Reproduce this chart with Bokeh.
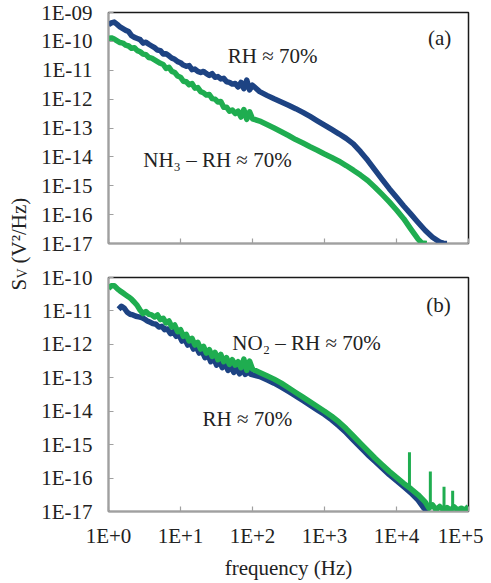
from math import pi

from bokeh.embed import file_html
from bokeh.resources import INLINE
from bokeh.plotting import figure
from bokeh.layouts import row, column
from bokeh.models import Range1d, FixedTicker, Label, CustomJSTickFormatter

# ---------------- data (log10 of frequency in Hz, log10 of S_V in V^2/Hz) ----------------
low_f_exp = [0.00, 0.04, 0.08, 0.12, 0.16, 0.20, 0.24, 0.28, 0.32, 0.36, 0.40, 0.44, 0.48,
             0.52, 0.56, 0.60, 0.64, 0.68, 0.72, 0.76, 0.80, 0.84, 0.88, 0.92, 0.96, 1.00,
             1.04, 1.08, 1.12, 1.16, 1.20, 1.24, 1.28, 1.32, 1.36, 1.40, 1.44, 1.48, 1.52,
             1.56, 1.60, 1.64, 1.68, 1.72, 1.76, 1.80, 1.84, 1.88, 1.92, 1.96, 2.00]

# panel (a): RH ~ 70 %
a_rh_f_exp = low_f_exp + [2.1, 2.2, 2.3, 2.4, 2.5, 2.6, 2.7, 2.8, 2.9, 3.0, 3.1, 3.2, 3.3, 3.4,
                          3.5, 3.6, 3.7, 3.8, 3.9, 4.0, 4.1, 4.2, 4.3, 4.4, 4.5, 4.6, 4.65, 4.70]
a_rh_s_exp = [-9.42, -9.36, -9.33, -9.41, -9.50, -9.56, -9.62, -9.66, -9.80, -9.86, -9.90, -9.94,
              -10.06, -10.03, -10.10, -10.16, -10.22, -10.30, -10.32, -10.44, -10.43, -10.50,
              -10.58, -10.62, -10.70, -10.74, -10.82, -10.86, -10.84, -10.98, -10.96, -11.04,
              -11.08, -11.04, -11.12, -11.18, -11.12, -11.24, -11.22, -11.30, -11.28, -11.40,
              -11.42, -11.48, -11.46, -11.58, -11.42, -11.64, -11.34, -11.68, -11.52,
              -11.74, -11.87, -11.99, -12.10, -12.21, -12.33, -12.46, -12.60, -12.75, -12.90,
              -13.05, -13.20, -13.36, -13.55, -13.82, -14.12, -14.45, -14.78, -15.10, -15.40,
              -15.70, -15.98, -16.27, -16.55, -16.78, -16.95, -16.99, -17.00]

# panel (a): NH3 - RH ~ 70 %
a_nh3_f_exp = low_f_exp + [2.1, 2.2, 2.3, 2.4, 2.5, 2.6, 2.7, 2.8, 2.9, 3.0, 3.1, 3.2, 3.3, 3.4,
                           3.5, 3.6, 3.7, 3.8, 3.9, 4.0, 4.1, 4.2, 4.3, 4.35, 4.42]
a_nh3_s_exp = [-9.90, -9.88, -9.92, -9.98, -10.04, -10.06, -10.13, -10.16, -10.24, -10.22,
               -10.32, -10.36, -10.44, -10.46, -10.56, -10.58, -10.64, -10.70, -10.76, -10.80,
               -10.94, -10.90, -11.04, -11.08, -11.20, -11.24, -11.38, -11.40, -11.50, -11.46,
               -11.62, -11.60, -11.74, -11.78, -11.86, -11.84, -11.98, -12.00, -12.10, -12.08,
               -12.28, -12.28, -12.42, -12.38, -12.50, -12.42, -12.62, -12.36, -12.70, -12.44,
               -12.68,
               -12.76, -12.88, -13.00, -13.13, -13.26, -13.40, -13.52, -13.65, -13.77, -13.90,
               -14.02, -14.15, -14.30, -14.46, -14.63, -14.82, -15.05, -15.30, -15.56, -15.84,
               -16.14, -16.50, -16.85, -16.98, -17.00]

# panel (b): RH ~ 70 %
b_rh_f_exp = [0.14, 0.18, 0.22, 0.26, 0.30, 0.34, 0.38, 0.42, 0.46, 0.50, 0.54, 0.58, 0.62,
              0.66, 0.70, 0.74, 0.78, 0.82, 0.86, 0.90, 0.94, 0.98, 1.02, 1.06, 1.10, 1.14,
              1.18, 1.22, 1.26, 1.30, 1.34, 1.38, 1.42, 1.46, 1.50, 1.54, 1.58, 1.62, 1.66,
              1.70, 1.74, 1.78, 1.82, 1.86, 1.90, 1.94, 1.98,
              2.1, 2.2, 2.3, 2.4, 2.5, 2.6, 2.7, 2.8, 2.9, 3.0, 3.1, 3.2, 3.3, 3.4, 3.5, 3.6,
              3.7, 3.8, 3.9, 4.0, 4.1, 4.2, 4.3, 4.38, 4.44]
b_rh_s_exp = [-10.95, -10.86, -10.92, -11.04, -11.10, -11.12, -11.16, -11.18, -11.20, -11.24,
              -11.30, -11.34, -11.38, -11.40, -11.48, -11.46, -11.56, -11.54, -11.68, -11.62,
              -11.76, -11.72, -11.90, -11.84, -12.02, -11.96, -12.14, -12.08, -12.26, -12.20,
              -12.40, -12.30, -12.52, -12.40, -12.62, -12.50, -12.70, -12.58, -12.78, -12.66,
              -12.84, -12.72, -12.88, -12.74, -12.90, -12.80, -12.90,
              -12.96, -13.06, -13.16, -13.28, -13.41, -13.54, -13.68, -13.82, -13.96, -14.10,
              -14.26, -14.44, -14.64, -14.86, -15.08, -15.30, -15.50, -15.70, -15.90, -16.08,
              -16.26, -16.44, -16.66, -16.90, -17.00]

# panel (b): NO2 - RH ~ 70 %
b_no2_f_exp = low_f_exp + [2.1, 2.2, 2.3, 2.4, 2.5, 2.6, 2.7, 2.8, 2.9, 3.0, 3.1, 3.2, 3.3, 3.4,
                           3.5, 3.6, 3.7, 3.8, 3.9, 4.0, 4.1, 4.2, 4.3, 4.4, 4.45, 4.50, 4.55,
                           4.60, 4.65, 4.70, 4.75, 4.80, 4.85, 4.90, 4.95, 5.00]
b_no2_s_exp = [-10.33, -10.25, -10.25, -10.33, -10.40, -10.46, -10.52, -10.58, -10.65, -10.74,
               -10.84, -10.98, -11.08, -11.02, -11.10, -11.12, -11.18, -11.12, -11.26, -11.22,
               -11.36, -11.30, -11.48, -11.42, -11.62, -11.56, -11.76, -11.70, -11.90, -11.82,
               -12.02, -11.94, -12.14, -12.06, -12.26, -12.16, -12.36, -12.24, -12.46, -12.30,
               -12.52, -12.40, -12.60, -12.46, -12.62, -12.52, -12.70, -12.44, -12.78, -12.50,
               -12.74,
               -12.84, -12.94, -13.04, -13.16, -13.30, -13.44, -13.58, -13.72, -13.86, -14.00,
               -14.15, -14.32, -14.52, -14.74, -14.96, -15.18, -15.40, -15.60, -15.80, -15.98,
               -16.16, -16.32, -16.50, -16.72, -16.90, -16.80, -16.95, -16.85, -16.95, -16.88,
               -16.96, -16.86, -16.96, -16.90, -16.96, -16.85]

# narrow spectral spikes of the NO2 curve
spike_f_exp = [4.18, 4.47, 4.66, 4.78]
spike_base_exp = [-16.29, -16.85, -16.92, -16.90]
spike_top_exp = [-15.23, -15.80, -16.26, -16.38]

x_ticks = [1e0, 1e1, 1e2, 1e3, 1e4, 1e5]
x_labels = ["1E+0", "1E+1", "1E+2", "1E+3", "1E+4", "1E+5"]
ya_ticks = [1e-17, 1e-16, 1e-15, 1e-14, 1e-13, 1e-12, 1e-11, 1e-10, 1e-9]
ya_labels = ["1E-17", "1E-16", "1E-15", "1E-14", "1E-13", "1E-12", "1E-11", "1E-10", "1E-09"]
yb_ticks = [1e-17, 1e-16, 1e-15, 1e-14, 1e-13, 1e-12, 1e-11, 1e-10]
yb_labels = ["1E-17", "1E-16", "1E-15", "1E-14", "1E-13", "1E-12", "1E-11", "1E-10"]


def pw(vals):
    return [10.0 ** v for v in vals]


BLUE = "#1d4383"
GREEN = "#1fad50"
TXT = "#222222"
AX = "#a0a0a0"
FONT = "Liberation Serif"
FS = "21px"

LABEL_JS = """
let best = 0, bd = Infinity;
for (let i = 0; i < tv.length; i++) {
  const d = Math.abs(Math.log10(tick) - Math.log10(tv[i]));
  if (d < bd) { bd = d; best = i; }
}
return lbl[best];
"""


def panel(y0, y1, frame_h, b_top, b_bottom, yt, yl, xl):
    p = figure(x_axis_type="log", y_axis_type="log",
               x_range=Range1d(1, 1e5), y_range=Range1d(y0, y1),
               frame_width=360, frame_height=frame_h,
               min_border_left=70, min_border_right=15,
               min_border_top=b_top, min_border_bottom=b_bottom,
               toolbar_location=None, output_backend="svg",
               background_fill_color="white", border_fill_color="white",
               outline_line_color="#1a1a1a", outline_line_width=1.5)
    p.grid.visible = False
    for ax in (p.xaxis[0], p.yaxis[0]):
        ax.axis_line_color = AX
        ax.axis_line_width = 1.5
        ax.major_tick_line_color = AX
        ax.major_tick_line_width = 1.2
        ax.major_tick_in = 5
        ax.major_tick_out = 0
        ax.minor_tick_line_color = None
        ax.major_label_text_font = FONT
        ax.major_label_text_font_size = FS
        ax.major_label_text_color = TXT
    p.yaxis.ticker = FixedTicker(ticks=yt)
    p.yaxis.formatter = CustomJSTickFormatter(args=dict(tv=yt, lbl=yl), code=LABEL_JS)
    p.yaxis.major_label_standoff = 16
    p.xaxis.ticker = FixedTicker(ticks=x_ticks)
    p.xaxis.formatter = CustomJSTickFormatter(args=dict(tv=x_ticks, lbl=xl), code=LABEL_JS)
    p.xaxis.major_label_standoff = 12
    return p


def note(p, x, y, text):
    p.add_layout(Label(x=x, y=y, text=text, text_align="center", text_baseline="middle",
                       text_font=FONT, text_font_size=FS, text_color=TXT))


# ---------------- panel (a) ----------------
pa = panel(1e-17, 1e-9, 231, 12, 17, ya_ticks, ya_labels, [""] * len(x_ticks))
pa.line(pw(a_rh_f_exp), pw(a_rh_s_exp), line_color=BLUE, line_width=5.5, line_join="round")
pa.line(pw(a_nh3_f_exp), pw(a_nh3_s_exp), line_color=GREEN, line_width=5.5, line_join="round")
note(pa, 190, 3.2e-11, "RH ≈ 70%")
note(pa, 32.6, 7.6e-15, "NH₃ – RH ≈ 70%")
note(pa, 39800, 1.36e-10, "(a)")

# ---------------- panel (b) ----------------
pb = panel(1e-17, 1e-10, 234, 17, 72, yb_ticks, yb_labels, x_labels)
pb.xaxis.axis_label = "frequency (Hz)"
pb.xaxis.axis_label_text_font = FONT
pb.xaxis.axis_label_text_font_size = FS
pb.xaxis.axis_label_text_font_style = "normal"
pb.xaxis.axis_label_text_color = TXT
pb.xaxis.axis_label_standoff = 5
pb.line(pw(b_rh_f_exp), pw(b_rh_s_exp), line_color=BLUE, line_width=5.5, line_join="round")
pb.line(pw(b_no2_f_exp), pw(b_no2_s_exp), line_color=GREEN, line_width=5.5, line_join="round")
pb.segment(x0=pw(spike_f_exp), y0=pw(spike_base_exp), x1=pw(spike_f_exp), y1=pw(spike_top_exp),
           line_color=GREEN, line_width=3)
note(pb, 562, 1.12e-12, "NO₂ – RH ≈ 70%")
note(pb, 85, 6.0e-15, "RH ≈ 70%")
note(pb, 38300, 1.46e-11, "(b)")

# ---------------- shared y-axis title ----------------
H = 583
lab = figure(width=38, height=H, x_range=Range1d(0, 38), y_range=Range1d(0, H),
             x_axis_type=None, y_axis_type=None, min_border=0,
             toolbar_location=None, output_backend="svg", outline_line_color=None,
             background_fill_color="white", border_fill_color="white")
lab.add_layout(Label(x=18, y=293, text="S", angle=pi / 2, text_align="left", text_baseline="middle",
                     text_font=FONT, text_font_size=FS, text_color=TXT))
lab.add_layout(Label(x=22, y=305, text="V", angle=pi / 2, text_align="left", text_baseline="middle",
                     text_font=FONT, text_font_size="14px", text_color=TXT))
lab.add_layout(Label(x=18, y=320, text="(V²/Hz)", angle=pi / 2, text_align="left", text_baseline="middle",
                     text_font=FONT, text_font_size=FS, text_color=TXT))

layout = row(lab, column(pa, pb, spacing=0), spacing=0)

open("out.html", "w").write(file_html(layout, INLINE))
